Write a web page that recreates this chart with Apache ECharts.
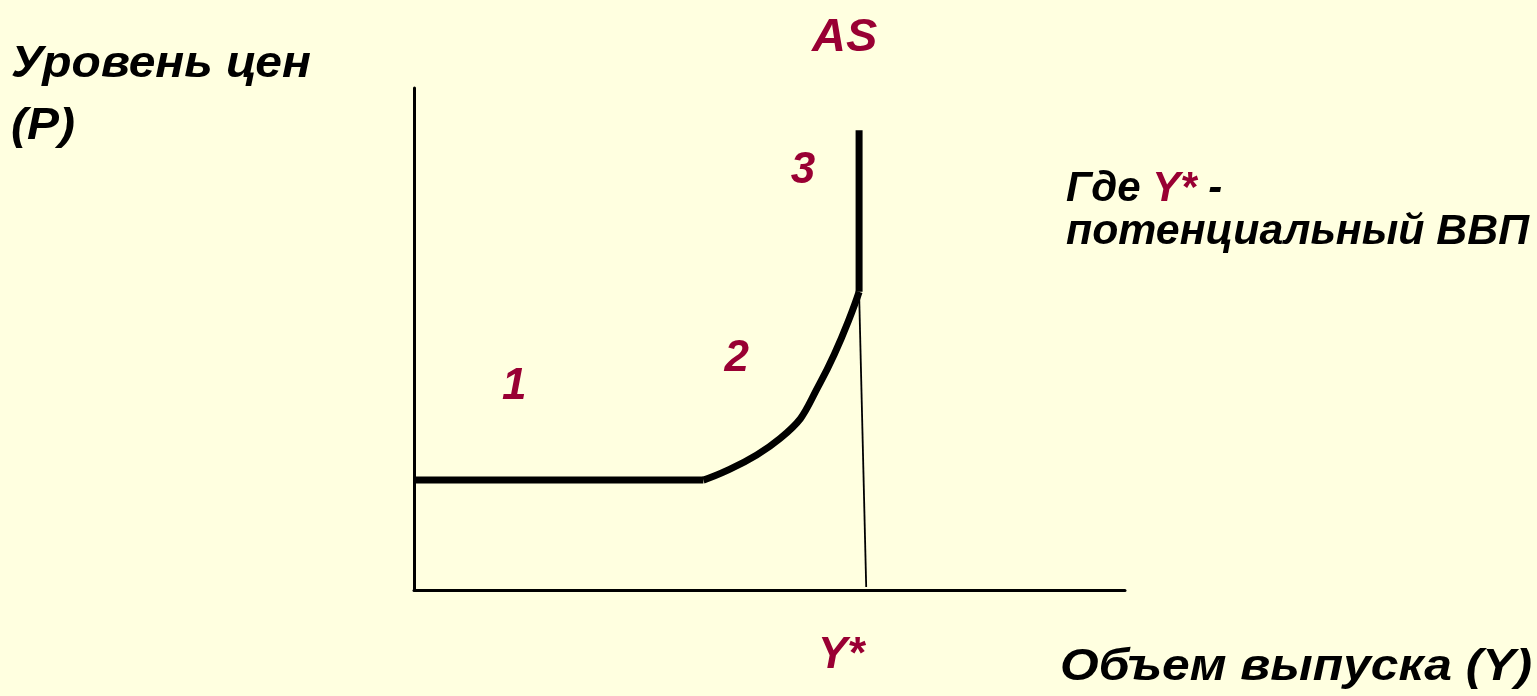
<!DOCTYPE html>
<html>
<head>
<meta charset="utf-8">
<script src="https://cdn.jsdelivr.net/npm/echarts@6/dist/echarts.min.js"></script>
<style>
  html, body { margin: 0; padding: 0; background: #ffffe0; }
  #chart { width: 1537px; height: 696px; }
</style>
</head>
<body>
<div id="chart"></div>
<script>
// кривая AS (условные единицы осей 0..100)
// 1 - горизонтальный участок
var flatX = [0, 40.7];
var flatY = [21.9, 21.9];
// 2 - промежуточный участок
var curveX = [40.7, 51.5, 57.1, 62.6];
var curveY = [21.9, 30.2, 41.2, 59.4];
// 3 - вертикальный участок
var vertX = [62.6, 62.6];
var vertY = [59.4, 91.6];
// тонкая линия к Y*
var guideX = [62.6, 63.6];
var guideY = [59.4, 0.6];
// номера участков
var zoneNames = ['1', '2', '3'];
var zoneX = [14.1, 45.4, 54.7];
var zoneY = [40.4, 46.0, 83.5];

var red = '#990033';
var font = "'Liberation Sans', Arial, sans-serif";

function pairs(xs, ys) {
    return xs.map(function (x, i) { return [x, ys[i]]; });
}

var chart = echarts.init(document.getElementById('chart'));

var option = {
    backgroundColor: '#ffffe0',
    animation: false,
    grid: { left: 414, top: 88, width: 711, height: 502 },
    xAxis: {
        type: 'value', min: 0, max: 100,
        axisLine: { lineStyle: { color: '#000', width: 3 } },
        axisTick: { show: false }, axisLabel: { show: false }, splitLine: { show: false }
    },
    yAxis: {
        type: 'value', min: 0, max: 100,
        axisLine: { show: true, lineStyle: { color: '#000', width: 3 } },
        axisTick: { show: false }, axisLabel: { show: false }, splitLine: { show: false }
    },
    series: [
        {
            type: 'line', data: pairs(flatX, flatY), symbol: 'none',
            lineStyle: { color: '#000', width: 7 }
        },
        {
            type: 'line', data: pairs(curveX, curveY), symbol: 'none', smooth: 0.5,
            lineStyle: { color: '#000', width: 7 }
        },
        {
            type: 'line', data: pairs(vertX, vertY), symbol: 'none',
            lineStyle: { color: '#000', width: 7 }
        },
        {
            type: 'line', data: pairs(guideX, guideY), symbol: 'none',
            lineStyle: { color: '#000', width: 1.8 }
        },
        {
            type: 'scatter', symbolSize: 0, itemStyle: { opacity: 1 },
            emphasis: { disabled: true },
            data: zoneNames.map(function (n, i) { return { name: n, value: [zoneX[i], zoneY[i]] }; }),
            label: {
                show: true, position: 'inside', formatter: '{b}', opacity: 1,
                color: red, fontFamily: font, fontWeight: 'bold', fontStyle: 'italic', fontSize: 44
            }
        }
    ],
    graphic: [
        {
            type: 'text', x: 11, y: 65, scaleX: 1.09,
            style: { text: 'Уровень цен', fill: '#000', font: 'italic bold 44px ' + font, verticalAlign: 'middle' }
        },
        {
            type: 'text', x: 11, y: 127, scaleX: 1.09,
            style: { text: '(P)', fill: '#000', font: 'italic bold 44px ' + font, verticalAlign: 'middle' }
        },
        {
            type: 'text', x: 812, y: 38,
            style: { text: 'AS', fill: red, font: 'italic bold 47px ' + font, verticalAlign: 'middle' }
        },
        {
            type: 'text', x: 1066, y: 189,
            style: {
                text: 'Где {r|Y*} -', fill: '#000', font: 'italic bold 42px ' + font, verticalAlign: 'middle',
                rich: { r: { fill: red, font: 'italic bold 42px ' + font } }
            }
        },
        {
            type: 'text', x: 1066, y: 232, scaleX: 1.02,
            style: { text: 'потенциальный ВВП', fill: '#000', font: 'italic bold 42px ' + font, verticalAlign: 'middle' }
        },
        {
            type: 'text', x: 818, y: 656,
            style: { text: 'Y*', fill: red, font: 'italic bold 44px ' + font, verticalAlign: 'middle' }
        },
        {
            type: 'text', x: 1060, y: 668, scaleX: 1.13,
            style: { text: 'Объем выпуска (Y)', fill: '#000', font: 'italic bold 44px ' + font, verticalAlign: 'middle' }
        }
    ]
};

chart.setOption(option);
</script>
</body>
</html>
